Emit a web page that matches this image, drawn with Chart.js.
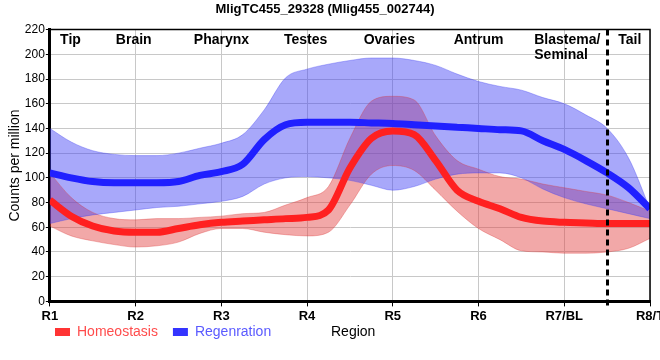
<!DOCTYPE html>
<html>
<head>
<meta charset="utf-8">
<script src="https://cdn.jsdelivr.net/npm/chart.js@4"></script>
<style>
  html,body{margin:0;padding:0;background:#fff;overflow:hidden}
  #wrap{width:660px;height:360px}
</style>
</head>
<body>
<div id="wrap"><canvas id="chart" width="660" height="360"></canvas></div>
<script>
// --------- data ---------
const xLabels = ['R1','R2','R3','R4','R5','R6','R7/BL','R8/T'];
const pos = [1,1.25,1.5,1.75,2,2.25,2.5,2.75,3,3.25,3.5,3.75,4,4.25,4.5,4.75,5,5.25,5.5,5.75,6,6.25,6.5,6.75,7,7.25,7.5,7.75,8];

const homeoMean  = [82,69,61,57,56,56,59,62,64,65,66,67,68,74,108,132,138,135,114,90,81,75,68,65,64,63.5,63,63,63];
const homeoUpper = [104,84,72,67,66,67,67,68,69,71,72,78,84,93,132,162,166,163,134,114,107,101,99,95,92,89,86,80,73];
const homeoLower = [61,53,49,46,44,45,48,55,59,59,56,54,53,56,78,103,110,106,90,73,59,50,41,40,39,39,40,43,51];

const regenMean  = [104,100,97,96,96,96,97,102,105,111,131,143,145,145,145,144.5,144,143,142,141,140,139,138,130,123,114,104,92,75];
const regenUpper = [140,129,122,119,118,118,120,124,128,135,155,181,188,192,195,197,197,195,191,184,178,174,171,165,160,151,140,116,75];
const regenLower = [63,67,70,72,74,76,77,79,81,85,95,100,101,100,98,94,90,93,99,103,104,104,100,91,84,79,75,71,67];

const regionNames = ['Tip','Brain','Pharynx','Testes','Ovaries','Antrum',['Blastema/','Seminal'],'Tail'];
const regionPos   = [1.12,1.77,2.68,3.73,4.66,5.71,6.65,7.63];
const tailBorder  = 7.5;

const FONT = "'Liberation Sans', Arial, sans-serif";

const pts = arr => arr.map((v,i)=>({x:pos[i], y:v}));

// --------- extra drawing: region names, dashed line, frame, axis name ---------
const overlay = {
  id:'overlay',
  beforeLayout(chart){
    // keep the legend row thin so the plot gets the height
    const lg = chart.legend;
    if(lg && !lg._thin){
      const fit = lg.fit.bind(lg);
      lg.fit = function(){ fit(); this.height = 16; };
      lg._thin = true;
    }
  },
  afterLayout(chart){
    // legend starts under the plot, not at the canvas edge
    chart.legend.left += 40;
    chart.legend.top -= 16;
  },
  afterDatasetsDraw(chart){
    const {ctx, chartArea:a, scales:{x}} = chart;
    ctx.save();
    // dashed boundary
    const dx = Math.round(x.getPixelForValue(tailBorder)) + 0.5;
    ctx.strokeStyle = '#000'; ctx.lineWidth = 3; ctx.setLineDash([6,4]);
    ctx.beginPath(); ctx.moveTo(dx, a.top); ctx.lineTo(dx, a.bottom + 6); ctx.stroke();
    ctx.setLineDash([]);
    // top / right frame
    ctx.lineWidth = 1.5;
    ctx.beginPath(); ctx.moveTo(a.left, a.top); ctx.lineTo(a.right, a.top); ctx.lineTo(a.right, a.bottom); ctx.stroke();
    // region names
    ctx.fillStyle = '#000'; ctx.font = 'bold 14px ' + FONT;
    ctx.textAlign = 'left'; ctx.textBaseline = 'middle';
    regionNames.forEach((n,i)=>{
      const px = x.getPixelForValue(regionPos[i]);
      const lines = Array.isArray(n) ? n : [n];
      lines.forEach((t,j)=>ctx.fillText(t, px, a.top + 11 + j*15));
    });
    ctx.restore();
  },
  afterDraw(chart){
    const {ctx, legend} = chart;
    ctx.save();
    ctx.fillStyle = '#000'; ctx.font = '14px ' + FONT;
    ctx.textAlign = 'left'; ctx.textBaseline = 'middle';
    const it = legend.legendHitBoxes[0];
    const y = it ? it.top + it.height/2 : 330;
    ctx.fillText('Region', 331, y);
    ctx.restore();
  }
};

const bandRed = 'rgba(226,62,62,0.45)';
const bandBlue = 'rgba(62,62,244,0.45)';

new Chart(document.getElementById('chart'), {
  type:'line',
  data:{
    datasets:[
      {label:'', data:pts(homeoLower), borderColor:'rgba(220,60,60,0.35)', borderWidth:1, fill:false, order:3},
      {label:'', data:pts(homeoUpper), borderColor:'rgba(220,60,60,0.35)', borderWidth:1, backgroundColor:bandRed, fill:'-1', order:3},
      {label:'', data:pts(regenLower), borderColor:'rgba(60,60,240,0.35)', borderWidth:1, fill:false, order:2},
      {label:'', data:pts(regenUpper), borderColor:'rgba(60,60,240,0.35)', borderWidth:1, backgroundColor:bandBlue, fill:'-1', order:2},
      {label:'Homeostasis', data:pts(homeoMean), borderColor:'#ff2020', backgroundColor:'#ff3434', borderWidth:7, fill:false, order:1, legendText:'#ff4c4c'},
      {label:'Regenration', data:pts(regenMean), borderColor:'#2020ff', backgroundColor:'#3434ff', borderWidth:7, fill:false, order:0, legendText:'#5a5aff'}
    ]
  },
  options:{
    responsive:false,
    animation:false,
    elements:{point:{radius:0}, line:{cubicInterpolationMode:'monotone', borderCapStyle:'butt'}},
    layout:{padding:{left:0, right:10, top:0, bottom:18}},
    plugins:{
      filler:{drawTime:'beforeDatasetsDraw'},
      tooltip:{enabled:false},
      title:{display:true, text:'MligTC455_29328 (Mlig455_002744)', color:'#000',
             font:{family:FONT, size:13, weight:'bold'}, padding:{top:2, bottom:12}},
      legend:{
        position:'bottom', align:'start',
        labels:{
          boxWidth:15, boxHeight:8, padding:15, font:{family:FONT, size:14},
          filter:item=>item.text!=='',
          sort:(a,b)=>a.datasetIndex-b.datasetIndex,
          generateLabels(chart){
            return Chart.defaults.plugins.legend.labels.generateLabels(chart).map(l=>{
              const ds = chart.data.datasets[l.datasetIndex];
              l.fontColor = ds.legendText || '#000';
              l.fillStyle = ds.backgroundColor; l.strokeStyle = ds.backgroundColor; l.lineWidth = 0;
              return l;
            });
          }
        }
      }
    },
    scales:{
      x:{
        type:'linear', min:1, max:8,
        afterFit(s){ s.paddingRight = 0; s.paddingLeft = 0; },
        ticks:{stepSize:1, color:'#000', font:{family:FONT, size:13, weight:'bold'}, padding:2,
               maxRotation:0, autoSkip:false, callback:v=>xLabels[v-1]},
        grid:{color:'#c8c8c8', tickColor:'#000', tickLength:5},
        border:{color:'#000', width:3}
      },
      y:{
        min:0, max:220,
        ticks:{stepSize:20, color:'#000', font:{family:FONT, size:12}, padding:1},
        grid:{color:'#c8c8c8', tickColor:'#000', tickLength:4},
        border:{color:'#000', width:3},
        title:{display:true, text:'Counts per million', color:'#000', font:{family:FONT, size:14}, padding:{top:7,bottom:0}}
      }
    }
  },
  plugins:[overlay]
});
</script>
</body>
</html>
